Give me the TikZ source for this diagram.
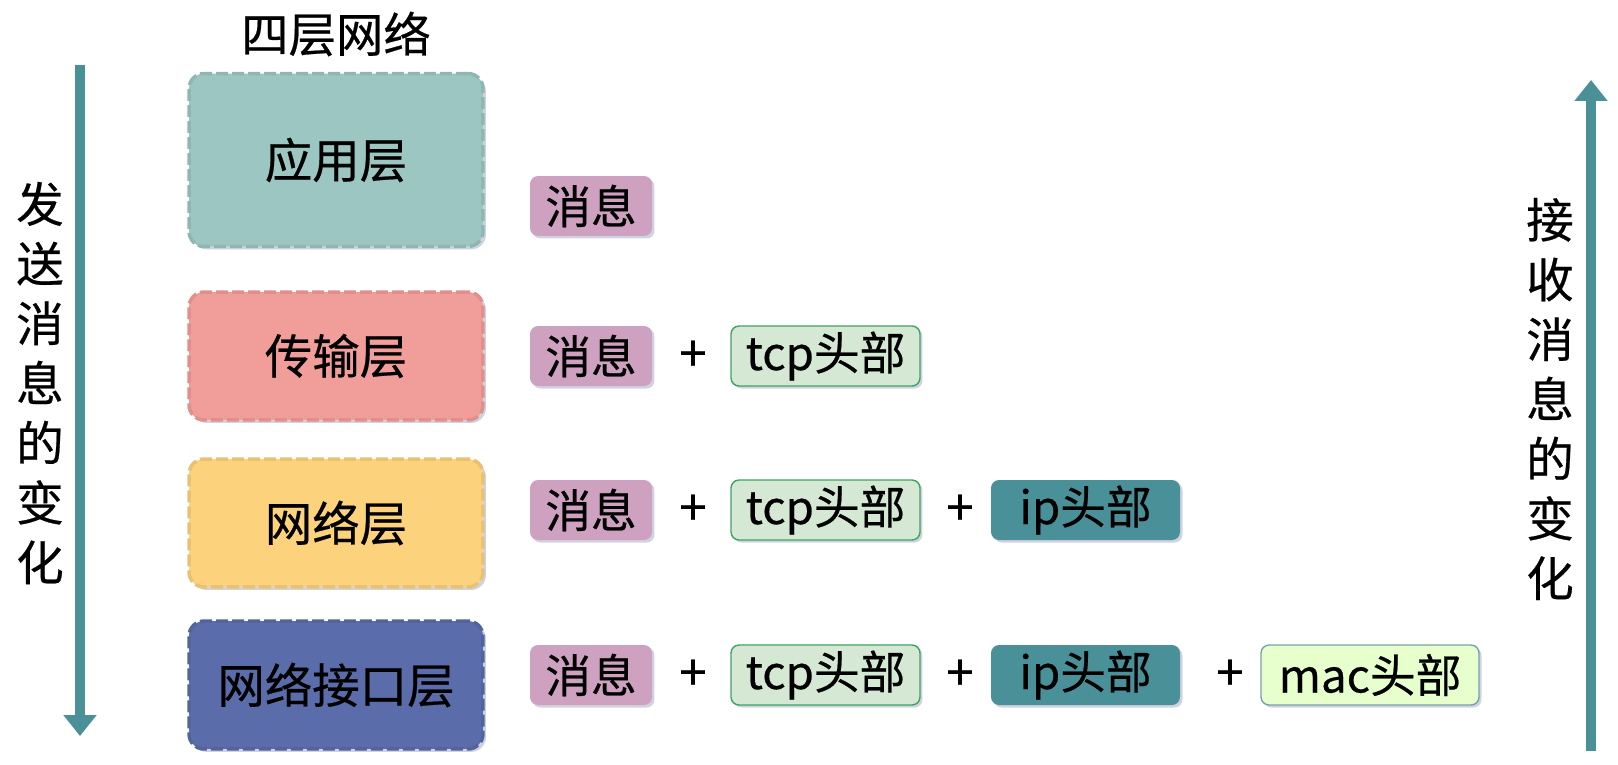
\documentclass[tikz,border=0pt]{standalone}
\usepackage{fontspec}
\setmainfont{Noto Sans CJK SC}[FakeBold=0.5]
\usetikzlibrary{arrows.meta,shadows}

\definecolor{appc}{HTML}{9CC6C1}
\definecolor{tranc}{HTML}{F19D99}
\definecolor{netc}{HTML}{FDD27C}
\definecolor{ifc}{HTML}{5A6DAA}
\definecolor{msgc}{HTML}{CDA1BF}
\definecolor{tcpc}{HTML}{D5E8D4}
\definecolor{tcpd}{HTML}{3FA45F}
\definecolor{ipc}{HTML}{4A9099}
\definecolor{macc}{HTML}{E6FFCC}
\definecolor{macd}{HTML}{7C9FB0}
\definecolor{flowc}{HTML}{4A9099}
\definecolor{shadc}{HTML}{8A8FB0}

\begin{document}
\begin{tikzpicture}[x=0.02cm, y=-0.02cm,
  layer/.style={rounded corners=0.3cm, dash pattern=on 0.24cm off 0.08cm,
    line width=0.07cm, minimum width=5.88cm, minimum height=2.56cm,
    font=\fontsize{27}{32}\selectfont,
    drop shadow={shadow xshift=0.06cm, shadow yshift=-0.06cm, opacity=0.4, fill=shadc}},
  msg/.style={rounded corners=0.16cm, minimum height=1.2cm, inner sep=0pt,
    font=\fontsize{26}{30}\selectfont,
    drop shadow={shadow xshift=0.05cm, shadow yshift=-0.05cm, opacity=0.4, fill=shadc}},
  plus/.style={font=\fontsize{28}{30}\selectfont},
  vtext/.style={align=center, font=\fontsize{27}{34}\selectfont},
  flow/.style={line width=0.2cm, draw=flowc,
    -{Triangle[width=0.64cm, length=0.42cm]}}]

\useasboundingbox (0,0) rectangle (1618,764);

% --- Title ---
\node[font=\fontsize{27}{32}\selectfont] (title) at (336,34) {四层网络};

% --- Layers ---
\node[layer, fill=appc, draw=appc!92!black, minimum height=3.46cm] (app) at (336,160) {应用层};
\node[layer, fill=tranc, draw=tranc!92!black] (tran) at (336,356) {传输层};
\node[layer, fill=netc, draw=netc!92!black] (net) at (336,523) {网络层};
\node[layer, fill=ifc, draw=ifc!92!black] (link) at (336,685) {网络接口层};

% --- Messages ---
\foreach \i/\y in {1/206, 2/356, 3/510, 4/675} {
  \node[msg, fill=msgc, minimum width=2.44cm] (m\i) at (591,\y) {消息};
}
\foreach \i/\y in {2/356, 3/510, 4/675} {
  \node[plus] (pa\i) at (693,\y) {+};
  \node[msg, fill=tcpc, draw=tcpd, line width=0.8pt, minimum width=3.78cm]
    (tcp\i) at (825.5,\y) {tcp头部};
}
\foreach \i/\y in {3/510, 4/675} {
  \node[plus] (pb\i) at (960,\y) {+};
  \node[msg, fill=ipc, minimum width=3.78cm] (ip\i) at (1085.5,\y) {ip头部};
}
\node[plus] (pc4) at (1230,675) {+};
\node[msg, fill=macc, draw=macd, line width=0.8pt, minimum width=4.36cm]
  (mac4) at (1370,675) {mac头部};

% --- Send / receive arrows ---
\coordinate (s0) at (80,65);
\coordinate (s1) at (80,736);
\draw[flow] (s0) -- (s1);
\node[vtext] (send) at (40,383) {发\\送\\消\\息\\的\\变\\化};

\coordinate (r0) at (1591,751);
\coordinate (r1) at (1591,80);
\draw[flow] (r0) -- (r1);
\node[vtext] (recv) at (1550,399) {接\\收\\消\\息\\的\\变\\化};

\end{tikzpicture}
\end{document}
